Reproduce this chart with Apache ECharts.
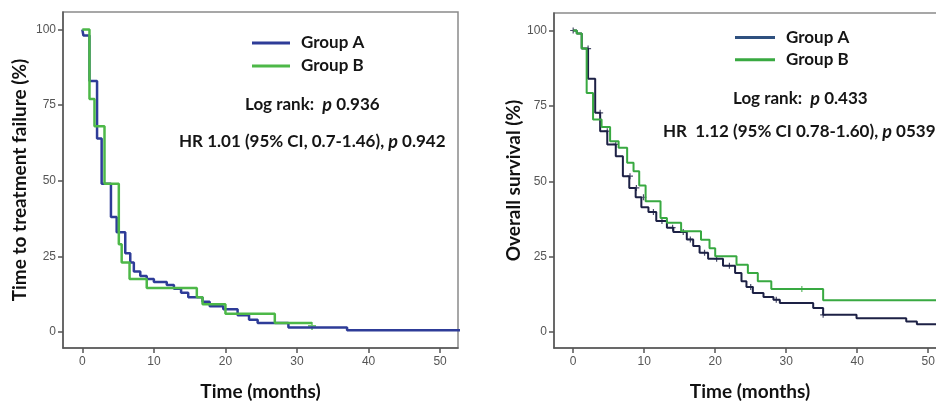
<!DOCTYPE html>
<html><head><meta charset="utf-8">
<script src="https://cdn.jsdelivr.net/npm/echarts@6/dist/echarts.min.js"></script>
<style>html,body{margin:0;padding:0;background:#fff}#c{width:936px;height:406px}</style>
</head><body><div id="c"></div>
<script>
// ---- data (months, % surviving) ----
const xTicks = [0, 10, 20, 30, 40, 50];
const yTicks = [0, 25, 50, 75, 100];

const ttfGroupA = [[0,100],[0.15,98],[1.0,83],[2.06,64],[2.7,49],[4.0,38],[4.8,33],[6.0,26],[6.7,23],[7.2,20],[8.1,18.5],[9.0,17.5],[10.0,16.5],[11.8,15.5],[12.8,14.3],[13.8,13],[14.8,11.5],[16.8,10],[17.8,8.5],[19.7,7.5],[21.7,5.5],[23.3,4],[24.5,3],[28.8,1.5],[37.0,0.6],[53,0.6]];
const ttfGroupB = [[0,100],[1.0,77],[1.7,68],[3.1,49],[5.1,29],[5.5,23],[6.6,17.5],[9.0,14.5],[16.0,11.5],[16.8,9.2],[20.0,6],[26.9,3],[32.1,3]];
const ttfCensorB = [[32.1,2]];

const osGroupA = [[0,100],[0.5,99],[1.2,94],[2.1,84],[3.1,72.7],[3.8,66.6],[4.8,62.2],[6.0,58.3],[7.0,51.7],[7.9,47.8],[8.8,44.7],[9.6,41.4],[10.6,39.8],[11.7,36.8],[13.2,34.6],[14.1,33.2],[16.0,30.7],[16.9,28.5],[17.8,26.3],[19.0,24.3],[21.1,22],[22.8,19.6],[23.7,16.8],[24.4,14.9],[25.3,12.9],[26.8,11.6],[28.2,10.7],[29.1,9.6],[33.8,8.0],[35.2,5.7],[39.9,4.6],[46.9,3.5],[48.4,2.6],[53,2.6]];
const osGroupB = [[0,100],[0.5,99],[1.2,94],[1.9,79.3],[2.8,70.5],[4.0,68],[5.2,63.3],[6.4,61.1],[7.6,56.1],[8.5,53.3],[9.3,48.6],[10.2,43.4],[12.3,37.8],[13.2,36.2],[15.2,33.4],[18.0,30.6],[19.2,27.8],[20.0,25.1],[23.0,22.3],[24.6,19.6],[26.0,16.8],[27.9,14.3],[35.2,10.5],[53,10.5]];
const osCensorA = [[0,100],[2.1,94],[3.8,72.7],[4.8,66.6],[6.0,62.2],[8.0,51.7],[8.9,47.8],[9.9,44.7],[11.3,39.8],[12.5,36.8],[14.0,34.6],[15.5,33.2],[16.5,30.7],[18.5,26.3],[20.2,24.3],[22.0,22],[25.0,14.9],[28.6,10.7],[35.2,5.7]];
const osCensorB = [[32.2,14.3]];

const legendNames = ['Group A', 'Group B'];
const ttfTexts = ['Log rank:  {p|p} 0.936', 'HR 1.01 (95% CI, 0.7-1.46), {p|p} 0.942'];
const osTexts = ['Log rank:  {p|p} 0.433', 'HR  1.12 (95% CI 0.78-1.60), {p|p} 0539'];
const yTitles = ['Time to treatment failure (%)', 'Overall survival (%)'];
const xTitle = 'Time (months)';

// ---- styling ----
const C = { ttfA:'#2e3c98', ttfB:'#4db848', osA:'#1d2145', osB:'#38a941', osLegA:'#2f507f' };
const FONT = 'Lato';
const plus = 'path://M4,0H6V4H10V6H6V10H4V6H0V4H4Z';

function xAxis(gi){
  return { type:'value', gridIndex:gi, min:-2.7, max:52.5,
    axisLine:{show:true, onZero:false, lineStyle:{color:'#555', width:1.5}},
    axisTick:{show:true, length:5, customValues:xTicks, lineStyle:{color:'#555', width:1.5}},
    axisLabel:{customValues:xTicks, color:'#555', fontSize:12, fontFamily:'Liberation Sans', margin:8},
    splitLine:{show:false},
    name:xTitle, nameLocation:'middle', nameGap:34,
    nameTextStyle:{fontFamily:FONT, fontWeight:'bold', fontSize:19, color:'#111'} };
}
function yAxis(gi, title, gap){
  return { type:'value', gridIndex:gi, min:-5.3, max:105.8,
    axisLine:{show:true, onZero:false, lineStyle:{color:'#555', width:1.5}},
    axisTick:{show:true, length:5, customValues:yTicks, lineStyle:{color:'#555', width:1.5}},
    axisLabel:{customValues:yTicks, color:'#555', fontSize:12, fontFamily:'Liberation Sans', margin:7},
    splitLine:{show:false},
    name:title, nameLocation:'middle', nameGap:gap, nameRotate:90,
    nameTextStyle:{fontFamily:FONT, fontWeight:'bold', fontSize:19, color:'#111'} };
}
function km(name, data, color, xi, w){
  return { name, type:'line', step:'end', data, xAxisIndex:xi, yAxisIndex:xi,
    showSymbol:false, symbol:'none', lineStyle:{color, width:w}, itemStyle:{color}, silent:true, animation:false };
}
function cens(data, color, xi, size){
  return { type:'scatter', data, xAxisIndex:xi, yAxisIndex:xi, symbol:plus, symbolSize:size,
    itemStyle:{color}, silent:true, animation:false };
}
function label(text, left, top){
  return { type:'text', left, top, style:{ text, fontFamily:FONT, fontWeight:'bold', fontSize:17, fill:'#151515',
    rich:{ p:{ fontFamily:FONT, fontWeight:'bold', fontStyle:'italic', fontSize:18, fill:'#151515' } } } };
}

const chart = echarts.init(document.getElementById('c'), null, {renderer:'canvas'});
chart.setOption({
  backgroundColor:'#fff',
  animation:false,
  grid:[
    {left:63, top:12, width:395, height:336, outerBoundsMode:'none', containLabel:false, show:true, borderColor:'#8a8a8a', borderWidth:1.5},
    {left:554, top:13, width:392, height:335, outerBoundsMode:'none', containLabel:false, show:true, borderColor:'#8a8a8a', borderWidth:1.5}
  ],
  xAxis:[xAxis(0), xAxis(1)],
  yAxis:[yAxis(0, yTitles[0], 34), yAxis(1, yTitles[1], 29)],
  legend:[
    { orient:'vertical', left:252, top:33, itemWidth:38, itemHeight:3, itemGap:3, padding:0, icon:'rect',
      data:[{name:'A1', itemStyle:{color:C.ttfA}}, {name:'B1', itemStyle:{color:C.ttfB}}],
      formatter:n => legendNames[n[0]==='A'?0:1], selectedMode:false,
      textStyle:{fontFamily:FONT, fontWeight:'bold', fontSize:17, color:'#151515', lineHeight:20, padding:[0,0,0,6]} },
    { orient:'vertical', left:735, top:27.5, itemWidth:40, itemHeight:3, itemGap:2.3, padding:0, icon:'rect',
      data:[{name:'A2', itemStyle:{color:C.osLegA}}, {name:'B2', itemStyle:{color:C.osB}}],
      formatter:n => legendNames[n[0]==='A'?0:1], selectedMode:false,
      textStyle:{fontFamily:FONT, fontWeight:'bold', fontSize:17, color:'#151515', lineHeight:20, padding:[0,0,0,6]} }
  ],
  graphic:[
    label(ttfTexts[0], 245, 96),
    label(ttfTexts[1], 179, 133),
    label(osTexts[0], 733, 90),
    label(osTexts[1], 663, 123)
  ],
  series:[
    km('A1', ttfGroupA, C.ttfA, 0, 2.5),
    km('B1', ttfGroupB, C.ttfB, 0, 2.5),
    cens(ttfCensorB, C.ttfB, 0, 8),
    km('A2', osGroupA, C.osA, 1, 2),
    km('B2', osGroupB, C.osB, 1, 2),
    cens(osCensorA, C.osA, 1, 6),
    cens(osCensorB, C.osB, 1, 6)
  ]
});
</script></body></html>
